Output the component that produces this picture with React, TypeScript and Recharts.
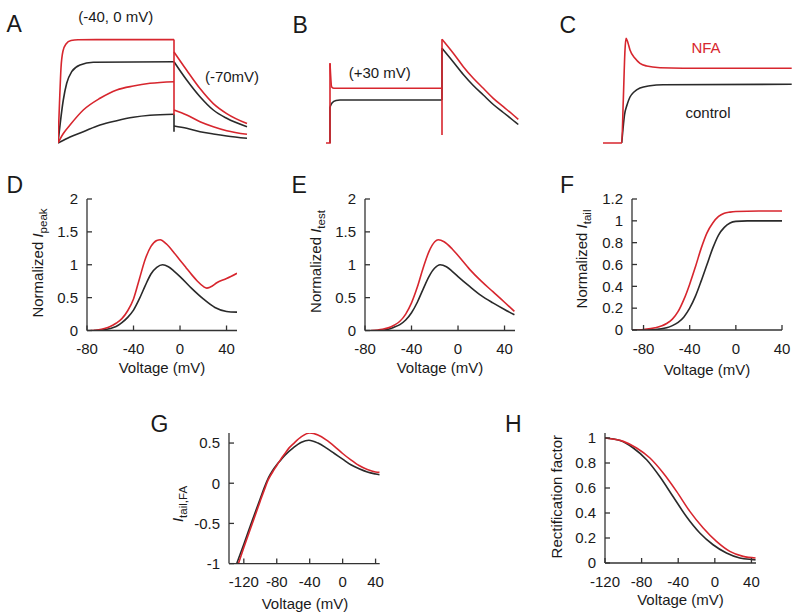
import React from "react";
import { LineChart, Line, XAxis, YAxis } from "recharts";

const FONT = '"Liberation Sans", Arial, Helvetica, sans-serif';
const RED = "#d7262e";
const BLK = "#2a2a2a";
const AXIS = "#333333";
const TXT = "#1a1a1a";
const FS = 15;

type Pt = [number, number];

// ---- A: current traces, step to -40 / 0 mV then tail at -70 mV (a.u.)
const aBlackTopOn: Pt[] = [[0, 0], [5.3, 43], [8.7, 59.7], [13.7, 71.3], [22, 78], [35.3, 80.7], [116, 81.3]];
const aBlackTopOff: Pt[] = [[116, 81.3], [128.7, 63], [142, 46.3], [155.3, 33], [168.7, 24.7], [189, 16.3]];
const aBlackLowOn: Pt[] = [[0, 0], [5, 2.5], [12, 6], [25.3, 11.3], [42, 18], [58.7, 22.3], [75.3, 25.7], [92, 27.7], [116, 28.7]];
const aBlackJump: Pt[] = [[116, 28.7], [116, 11.3], [116, 17]];
const aBlackLowOff: Pt[] = [[116, 17], [128.7, 14.7], [142, 11.3], [155.3, 9], [168.7, 7], [189, 4.7]];
const aRedTopOn: Pt[] = [[0, 0], [1.5, 40], [3, 75], [5, 92], [8, 99], [13, 102.5], [20, 103.3], [60, 103.4], [116, 103.4]];
const aRedJump: Pt[] = [[116, 103.4], [116, 28], [116, 91]];
const aRedTopOff: Pt[] = [[116, 91], [128.7, 72.7], [142, 54.4], [155.3, 39.4], [168.7, 29.4], [189, 19.4]];
const aRedMidOn: Pt[] = [[0, 0], [5, 9], [12, 18], [25.3, 33], [42, 44.7], [58.7, 53], [75.3, 57], [92, 59.7], [116, 61.3]];
const aRedMidOff: Pt[] = [[116, 33], [128.7, 28], [142, 21.3], [155.3, 16.3], [168.7, 12.3], [189, 8.7]];

// ---- B: +30 mV step
const bBlackRise: Pt[] = [[4, 0], [4, 36]];
const bBlackStep: Pt[] = [[4, 36], [6, 40], [10, 42.5], [14, 43], [116, 43]];
const bBlackJump: Pt[] = [[116, 43], [116, 94.7]];
const bBlackTail: Pt[] = [[116, 94.7], [127.3, 81], [137.3, 68.5], [147.3, 57.5], [157.3, 48], [167.3, 38.5], [177.3, 30.5], [187.3, 22.5], [192.3, 18.5]];
const bRedRise: Pt[] = [[0, 0], [4, 0], [4, 79.7]];
const bRedStep: Pt[] = [[4, 79.7], [5.7, 56], [8, 54.7], [20, 54.7], [116, 54.7]];
const bRedJump: Pt[] = [[116, 54.7], [116, 8], [116, 103.7]];
const bRedTail: Pt[] = [[116, 103.7], [127.3, 89.7], [137.3, 76.3], [147.3, 64.7], [157.3, 54.7], [167.3, 44.7], [177.3, 36.3], [187.3, 28], [192.3, 23.7]];

// ---- C: control vs NFA
const cBlack: Pt[] = [[18.7, 0], [20, 14], [21.5, 28], [24, 38], [27, 46], [31, 51], [37, 55], [47, 57.3], [60, 58.3], [188.7, 58.7]];
const cRed: Pt[] = [[0, 0], [18.7, 0], [20.3, 43], [22, 93], [23, 104.7], [25, 100], [27, 93], [32, 84.7], [37, 79.7], [43.7, 77], [57, 75.3], [80, 74.8], [188.7, 74.7]];

// ---- D: normalized I peak
const dBlack: Pt[] = [[-74, 0], [-65, 0.01], [-60, 0.03], [-55, 0.06], [-50, 0.12], [-45, 0.2], [-40, 0.31], [-35, 0.48], [-30, 0.68], [-25, 0.86], [-20, 0.96], [-15, 1.0], [-10, 0.97], [-5, 0.9], [0, 0.82], [10, 0.64], [20, 0.48], [30, 0.35], [40, 0.29], [49, 0.28]];
const dRed: Pt[] = [[-77, 0], [-70, 0.01], [-65, 0.03], [-60, 0.06], [-55, 0.11], [-50, 0.18], [-45, 0.3], [-40, 0.48], [-35, 0.78], [-30, 1.08], [-25, 1.28], [-20, 1.37], [-17, 1.38], [-12, 1.32], [-5, 1.18], [0, 1.07], [5, 0.96], [10, 0.85], [15, 0.75], [20, 0.67], [23, 0.645], [26, 0.66], [32, 0.73], [40, 0.79], [49, 0.87]];

// ---- E: normalized I test
const eBlack: Pt[] = [[-67, 0], [-60, 0.02], [-55, 0.05], [-50, 0.09], [-45, 0.16], [-40, 0.27], [-35, 0.43], [-30, 0.63], [-25, 0.82], [-20, 0.95], [-15.5, 1.0], [-10, 0.97], [-5, 0.9], [0, 0.82], [10, 0.67], [20, 0.53], [30, 0.42], [40, 0.32], [48.5, 0.24]];
const eRed: Pt[] = [[-75, 0], [-65, 0.02], [-60, 0.04], [-55, 0.08], [-50, 0.14], [-45, 0.25], [-40, 0.42], [-35, 0.66], [-30, 0.95], [-25, 1.2], [-20, 1.35], [-17, 1.38], [-12, 1.35], [-5, 1.24], [0, 1.14], [10, 0.93], [20, 0.75], [30, 0.59], [40, 0.43], [48.5, 0.29]];

// ---- F: normalized I tail
const fBlack: Pt[] = [[-90, 0], [-70, 0.005], [-60, 0.02], [-55, 0.04], [-50, 0.07], [-45, 0.12], [-40, 0.2], [-35, 0.31], [-30, 0.45], [-25, 0.6], [-20, 0.75], [-15, 0.87], [-10, 0.94], [-5, 0.98], [0, 0.995], [10, 1.0], [40, 1.0]];
const fRed: Pt[] = [[-90, 0], [-80, 0.005], [-70, 0.02], [-60, 0.06], [-55, 0.1], [-50, 0.17], [-45, 0.28], [-40, 0.42], [-35, 0.58], [-30, 0.75], [-25, 0.89], [-20, 0.98], [-15, 1.04], [-10, 1.07], [-5, 1.08], [0, 1.085], [20, 1.09], [40, 1.09]];

// ---- G: I tail,FA
const gBlack: Pt[] = [[-128.6, -1], [-120, -0.76], [-110, -0.47], [-100, -0.19], [-95, -0.05], [-90, 0.07], [-85, 0.16], [-80, 0.23], [-75, 0.29], [-70, 0.35], [-60, 0.44], [-50, 0.51], [-41, 0.535], [-30, 0.5], [-20, 0.44], [-10, 0.37], [0, 0.3], [10, 0.23], [20, 0.18], [30, 0.14], [40, 0.115], [45, 0.105]];
const gRed: Pt[] = [[-126.5, -1], [-120, -0.8], [-110, -0.51], [-100, -0.22], [-95, -0.08], [-90, 0.05], [-85, 0.14], [-80, 0.22], [-75, 0.3], [-70, 0.37], [-65, 0.44], [-60, 0.49], [-50, 0.58], [-40, 0.625], [-30, 0.6], [-20, 0.54], [-10, 0.46], [0, 0.37], [10, 0.29], [20, 0.22], [30, 0.17], [40, 0.14], [45, 0.135]];

// ---- H: rectification factor
const hBlack: Pt[] = [[-120, 1.0], [-103.6, 0.98], [-89.1, 0.92], [-74.5, 0.826], [-60, 0.69], [-45.5, 0.53], [-30.9, 0.37], [-16.4, 0.24], [-1.9, 0.146], [12.7, 0.08], [27.3, 0.04], [41.8, 0.027], [44.5, 0.025]];
const hRed: Pt[] = [[-120, 1.0], [-100, 0.973], [-85.5, 0.92], [-70.9, 0.84], [-56.4, 0.72], [-41.8, 0.573], [-27.3, 0.413], [-12.7, 0.28], [1.8, 0.173], [16.4, 0.093], [30.9, 0.053], [44.5, 0.04]];

const vTicks80 = [-80, -40, 0, 40];
const vTicks120 = [-120, -80, -40, 0, 40];
const normTicks = [0, 0.5, 1, 1.5, 2];
const tailTicks = [0, 0.2, 0.4, 0.6, 0.8, 1, 1.2];
const faTicks = [-1, -0.5, 0, 0.5];
const rectTicks = [0, 0.2, 0.4, 0.6, 0.8, 1];

const toRows = (pts: Pt[]) => pts.map(([t, v]) => ({ t, v }));

type Series = { pts: Pt[]; color: string; curve?: "monotone" | "linear" };

const PL = 70, PT = 14, PR = 14, PB = 40;
const XTM = 13, YTM = 9, TL = 5;

function XTick(props: any) {
  const { x, y, payload } = props;
  const ay = y - XTM;
  return (
    <g>
      <line x1={x} x2={x} y1={ay} y2={ay - TL} stroke={AXIS} strokeWidth={1.3} />
      <text x={x} y={y} dy="0.71em" textAnchor="middle" fontSize={FS} fill={TXT} fontFamily={FONT}>
        {payload.value}
      </text>
    </g>
  );
}

function YTick(props: any) {
  const { x, y, payload } = props;
  const ax = x + YTM;
  return (
    <g>
      <line x1={ax} x2={ax + TL} y1={y} y2={y} stroke={AXIS} strokeWidth={1.3} />
      <text x={x} y={y} dy="0.355em" textAnchor="end" fontSize={FS} fill={TXT} fontFamily={FONT}>
        {payload.value}
      </text>
    </g>
  );
}

function Panel(props: {
  x: number; y: number; w: number; h: number;
  xDomain: [number, number]; yDomain: [number, number];
  xTicks?: number[]; yTicks?: number[];
  series: Series[];
}) {
  const { x, y, w, h, xDomain, yDomain, xTicks, yTicks, series } = props;
  const axes = !!xTicks;
  return (
    <div style={{ position: "absolute", left: x - PL, top: y - PT }}>
      <LineChart
        width={w + PL + PR}
        height={h + PT + PB}
        margin={axes ? { top: PT, right: PR, bottom: 0, left: 0 } : { top: PT, right: PR, bottom: PB, left: PL }}
      >
        <XAxis
          type="number"
          dataKey="t"
          domain={xDomain}
          ticks={xTicks}
          interval={0}
          allowDataOverflow
          hide={!axes}
          height={PB}
          stroke={AXIS}
          axisLine={{ stroke: AXIS, strokeWidth: 1.3 }}
          tickLine={false}
          tickSize={0}
          tickMargin={XTM}
          tick={XTick}
        />
        <YAxis
          type="number"
          domain={yDomain}
          ticks={yTicks}
          interval={0}
          allowDataOverflow
          hide={!axes}
          width={PL}
          stroke={AXIS}
          axisLine={{ stroke: AXIS, strokeWidth: 1.3 }}
          tickLine={false}
          tickSize={0}
          tickMargin={YTM}
          tick={YTick}
        />
        {series.map((s, i) => (
          <Line
            key={i}
            data={toRows(s.pts)}
            dataKey="v"
            type={s.curve ?? "monotone"}
            stroke={s.color}
            strokeWidth={1.6}
            dot={false}
            activeDot={false}
            isAnimationActive={false}
          />
        ))}
      </LineChart>
    </div>
  );
}

export default function App() {
  return (
    <div style={{ position: "absolute", left: 0, top: 0, width: 800, height: 614, background: "#fff", overflow: "hidden", fontFamily: FONT }}>
      <Panel x={58} y={33} w={190} h={115} xDomain={[0, 190]} yDomain={[-5, 110]}
        series={[
          { pts: aBlackTopOn, color: BLK }, { pts: aBlackTopOff, color: BLK },
          { pts: aBlackLowOn, color: BLK }, { pts: aBlackJump, color: BLK, curve: "linear" }, { pts: aBlackLowOff, color: BLK },
          { pts: aRedTopOn, color: RED }, { pts: aRedJump, color: RED, curve: "linear" }, { pts: aRedTopOff, color: RED },
          { pts: aRedMidOn, color: RED }, { pts: aRedMidOff, color: RED },
        ]} />
      <Panel x={326} y={33} w={193} h={115} xDomain={[0, 193]} yDomain={[-5, 110]}
        series={[
          { pts: bBlackRise, color: BLK, curve: "linear" }, { pts: bBlackStep, color: BLK },
          { pts: bBlackJump, color: BLK, curve: "linear" }, { pts: bBlackTail, color: BLK },
          { pts: bRedRise, color: RED, curve: "linear" }, { pts: bRedStep, color: RED },
          { pts: bRedJump, color: RED, curve: "linear" }, { pts: bRedTail, color: RED },
        ]} />
      <Panel x={603} y={33} w={190} h={115} xDomain={[0, 190]} yDomain={[-5, 110]}
        series={[{ pts: cBlack, color: BLK }, { pts: cRed, color: RED }]} />

      <Panel x={86.7} y={199} w={150} h={131.5} xDomain={[-80, 49]} yDomain={[0, 2]} xTicks={vTicks80} yTicks={normTicks}
        series={[{ pts: dBlack, color: BLK }, { pts: dRed, color: RED }]} />
      <Panel x={365} y={199} w={150} h={131.5} xDomain={[-80, 49]} yDomain={[0, 2]} xTicks={vTicks80} yTicks={normTicks}
        series={[{ pts: eBlack, color: BLK }, { pts: eRed, color: RED }]} />
      <Panel x={632} y={199} w={150} h={131} xDomain={[-90, 40]} yDomain={[0, 1.2]} xTicks={vTicks80} yTicks={tailTicks}
        series={[{ pts: fBlack, color: BLK }, { pts: fRed, color: RED }]} />

      <Panel x={229.3} y={432.7} w={150.7} h={130.6} xDomain={[-138, 45]} yDomain={[-1, 0.625]} xTicks={vTicks120} yTicks={faTicks}
        series={[{ pts: gBlack, color: BLK }, { pts: gRed, color: RED }]} />
      <Panel x={605} y={433.3} w={151} h={130} xDomain={[-120, 45]} yDomain={[0, 1.04]} xTicks={vTicks120} yTicks={rectTicks}
        series={[{ pts: hBlack, color: BLK }, { pts: hRed, color: RED }]} />

      <svg width={800} height={614} style={{ position: "absolute", left: 0, top: 0, pointerEvents: "none" }} fontFamily={FONT} fill={TXT}>
        <g fontSize={23}>
          <text x={6.5} y={31.7}>A</text>
          <text x={292.5} y={33.3}>B</text>
          <text x={559.5} y={33.3}>C</text>
          <text x={6.6} y={193.3}>D</text>
          <text x={291.6} y={193}>E</text>
          <text x={560} y={193}>F</text>
          <text x={150.5} y={431.7}>G</text>
          <text x={505} y={431.7}>H</text>
        </g>
        <g fontSize={15} textAnchor="middle">
          <text x={115.7} y={22}>(-40, 0 mV)</text>
          <text x={232} y={81.5}>(-70mV)</text>
          <text x={379.7} y={78}>(+30 mV)</text>
          <text x={706} y={52.7} fill={RED}>NFA</text>
          <text x={708} y={118}>control</text>
          <text x={162} y={373}>Voltage (mV)</text>
          <text x={440} y={373}>Voltage (mV)</text>
          <text x={707} y={375}>Voltage (mV)</text>
          <text x={305} y={609}>Voltage (mV)</text>
          <text x={680.5} y={605}>Voltage (mV)</text>
          <text transform="translate(43.3,263) rotate(-90)">
            Normalized <tspan fontStyle="italic">I</tspan><tspan fontSize={11.5} dy={4}>peak</tspan>
          </text>
          <text transform="translate(320.7,261.5) rotate(-90)">
            Normalized <tspan fontStyle="italic">I</tspan><tspan fontSize={11.5} dy={4}>test</tspan>
          </text>
          <text transform="translate(586.5,259) rotate(-90)">
            Normalized <tspan fontStyle="italic">I</tspan><tspan fontSize={11.5} dy={4}>tail</tspan>
          </text>
          <text transform="translate(183,504) rotate(-90)">
            <tspan fontStyle="italic">I</tspan><tspan fontSize={11.5} dy={4}>tail,FA</tspan>
          </text>
          <text transform="translate(562,496.7) rotate(-90)">Rectification factor</text>
        </g>
      </svg>
    </div>
  );
}
